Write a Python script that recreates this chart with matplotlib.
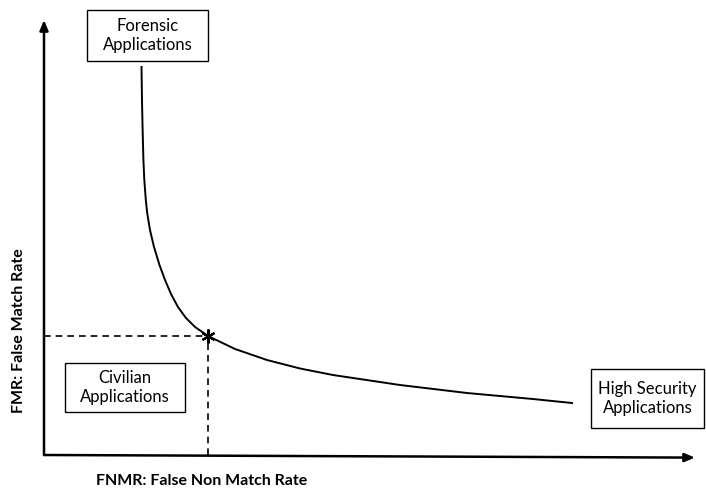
import matplotlib
matplotlib.use("Agg")
import matplotlib.pyplot as plt
from matplotlib.patches import Rectangle

# -------- DATA (arbitrary units, 0-100 on both axes) --------
fnmr = [14.98, 15.05, 15.15, 15.27, 15.41, 15.64, 15.85, 16.28, 16.90, 17.74,
        18.59, 19.51, 20.58, 21.81, 23.20, 25.19, 29.34, 34.25, 39.32, 44.39,
        54.69, 64.98, 75.12, 81.11]
fmr = [89.20, 81.61, 74.71, 67.82, 63.22, 58.62, 55.63, 51.72, 47.82, 43.68,
       40.23, 37.01, 34.02, 31.49, 29.43, 27.36, 24.37, 21.84, 19.89, 18.39,
       16.09, 14.25, 12.87, 11.95]
eer_point = (25.19, 27.36)

# label text -> (x0, y0, width, height) of its box, in the same units
labels = {
    "Forensic\nApplications": (6.6, 90.6, 18.6, 11.7),
    "Civilian\nApplications": (3.2, 9.9, 18.5, 11.2),
    "High Security\nApplications": (84.0, 6.2, 17.4, 13.6),
}
x_label = "FNMR: False Non Match Rate"
y_label = "FMR: False Match Rate"
# ------------------------------------------------------------

W, H = 706, 488
fig = plt.figure(figsize=(W / 100, H / 100), dpi=100)
ax = fig.add_axes([44 / W, (H - 455) / H, 651 / W, 435 / H])
ax.set_xlim(0, 100)
ax.set_ylim(0, 100)
ax.axis("off")

# axis arrows
arrow = dict(arrowstyle="-|>,head_length=0.6,head_width=0.25", color="black",
             lw=1.8, shrinkA=0, shrinkB=0)
ax.annotate("", xy=(0, 1.0), xytext=(0, 0), xycoords="axes fraction", arrowprops=arrow)
ax.annotate("", xy=(1.0, -0.006), xytext=(0, 0), xycoords="axes fraction", arrowprops=arrow)

# trade-off curve
ax.plot(fnmr, fmr, color="black", lw=1.4, solid_joinstyle="round")

# operating point + dashed guides
px, py = eer_point
ax.plot([0, px], [py, py], color="black", lw=1.2, ls=(0, (4, 3)))
ax.plot([px, px], [0, py], color="black", lw=1.2, ls=(0, (4, 3)))
ax.plot([px], [py], marker=(6, 2, 0), color="black", ms=10, mew=1.6)

for txt, (x0, y0, bw, bh) in labels.items():
    ax.add_patch(Rectangle((x0, y0), bw, bh, fc="white", ec="black", lw=1.0,
                           clip_on=False, zorder=3))
    ax.text(x0 + bw / 2, y0 + bh / 2, txt, ha="center", va="center", fontsize=12,
            family="Lato", linespacing=1.2, clip_on=False, zorder=4)

fig.text(96 / W, 1 - 481 / H, x_label, ha="left", va="center", fontsize=11.5,
         fontweight="bold", family="Lato")
fig.text(19 / W, 1 - 331 / H, y_label, ha="center", va="center", rotation=90,
         fontsize=11.5, fontweight="bold", family="Lato")

fig.savefig("out.png", dpi=100)
